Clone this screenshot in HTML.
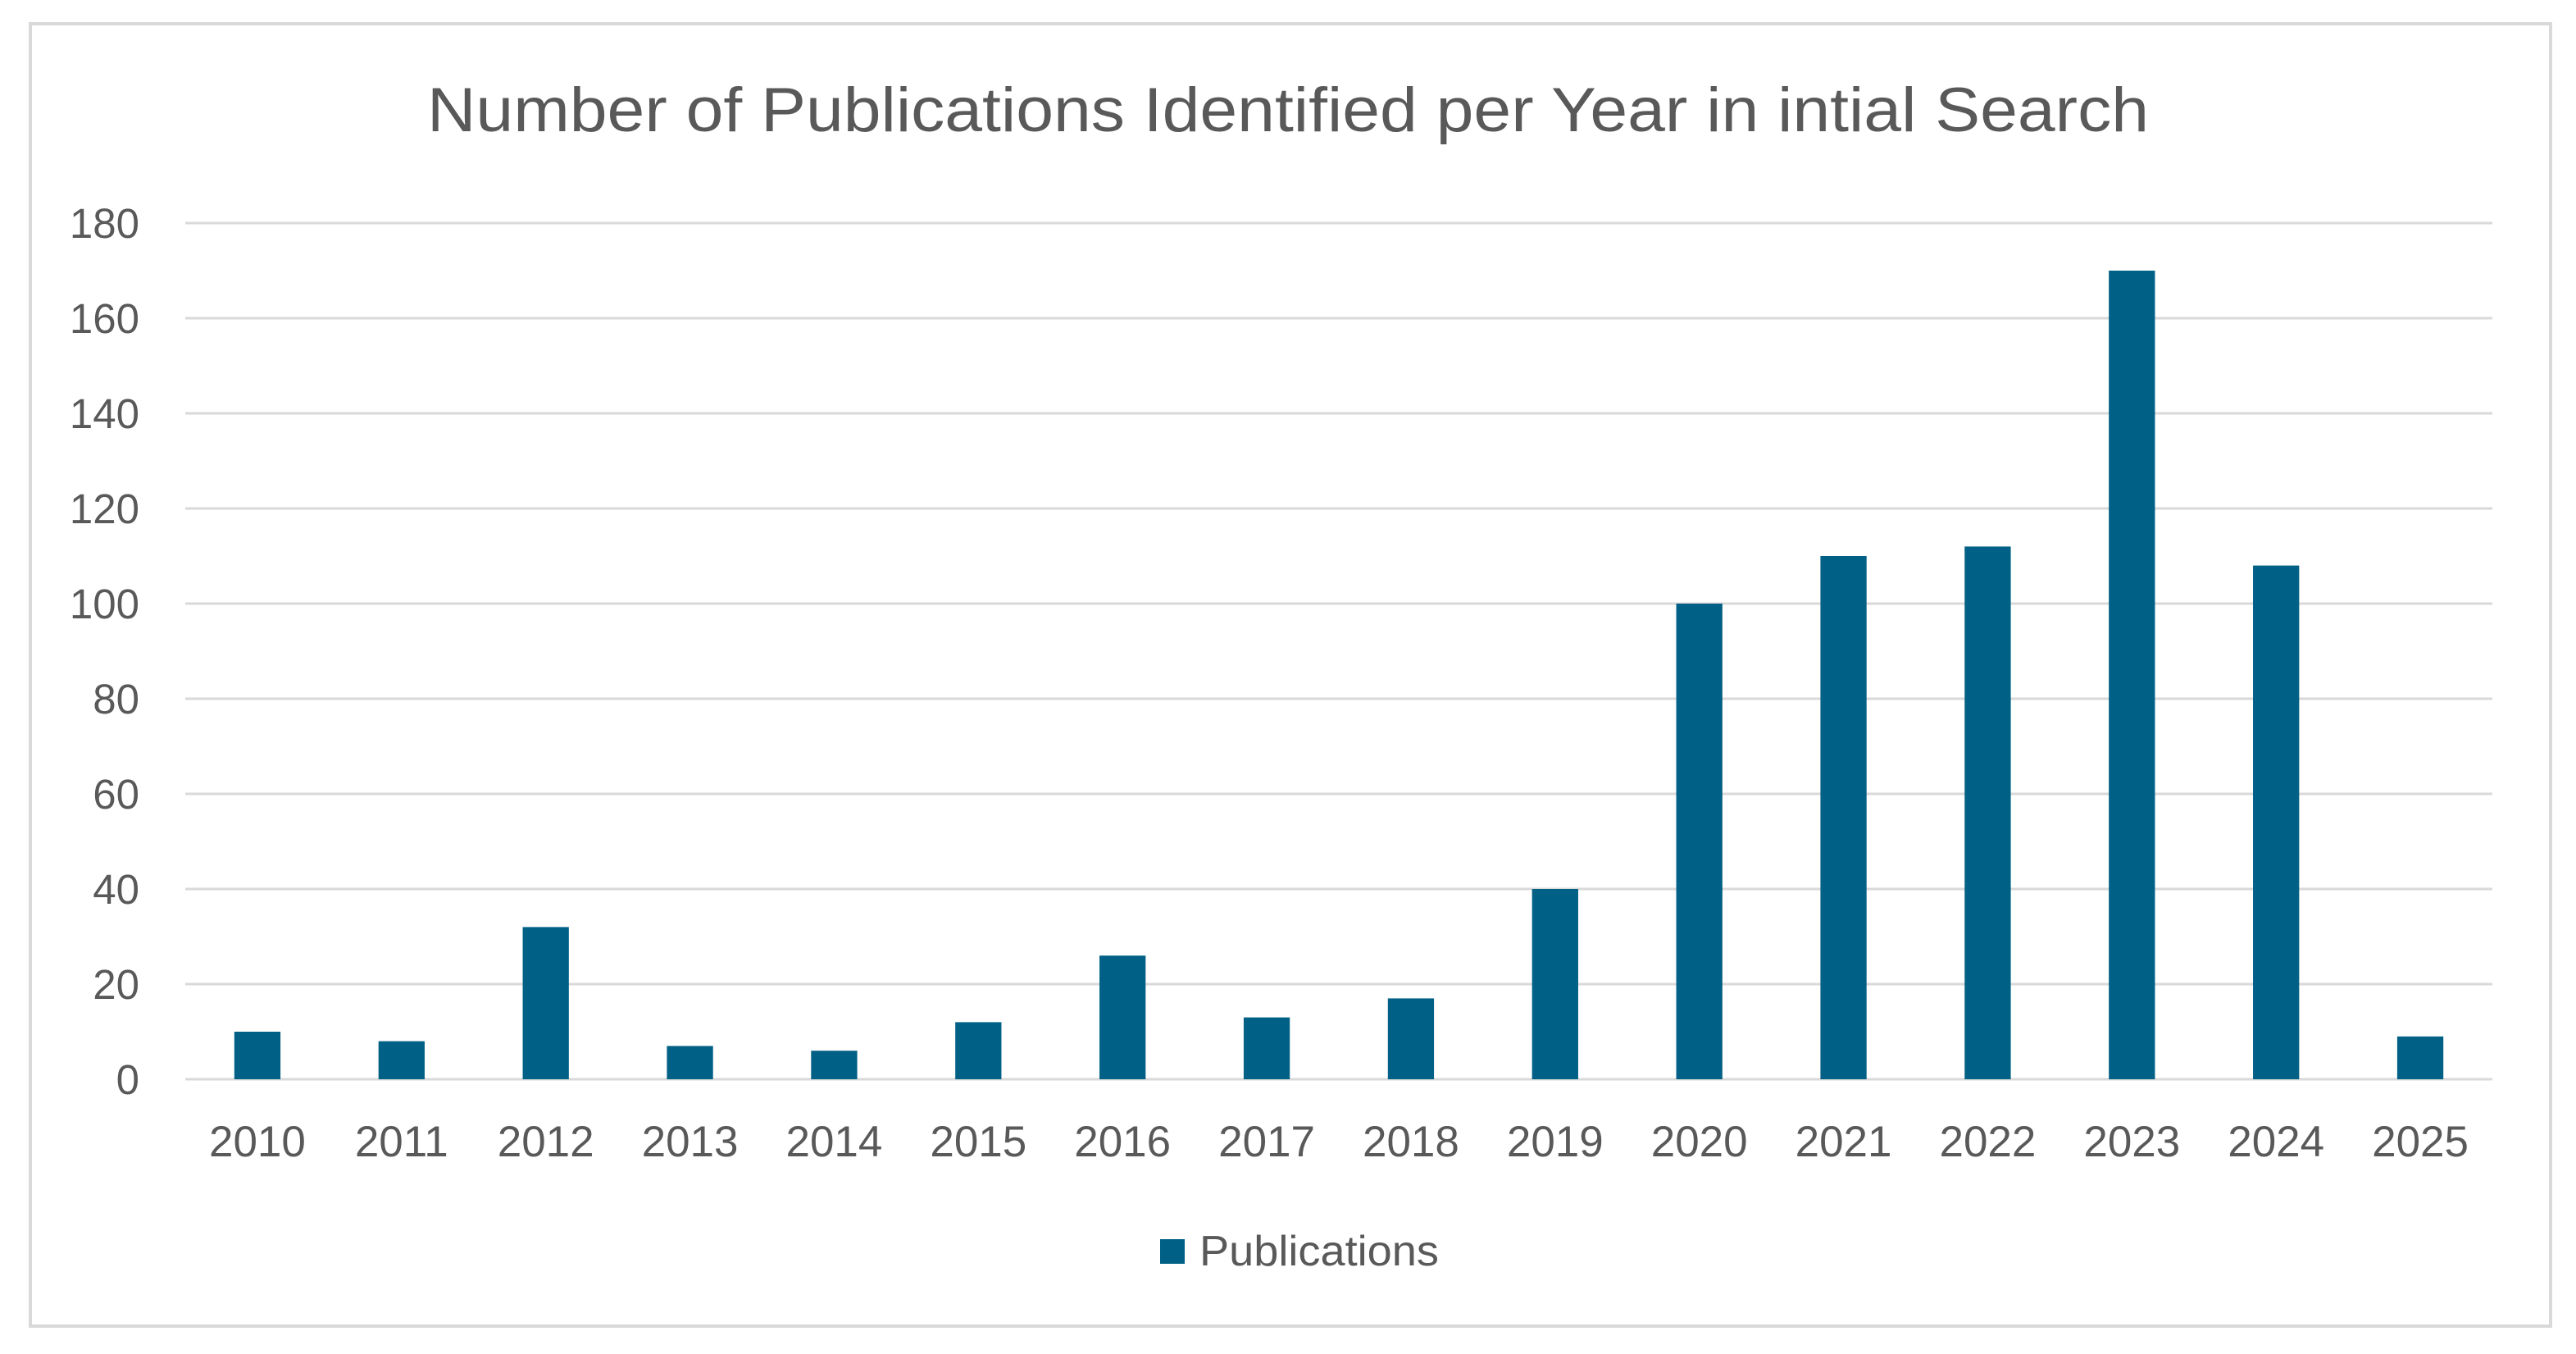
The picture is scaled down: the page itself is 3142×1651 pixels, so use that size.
<!DOCTYPE html>
<html><head><meta charset="utf-8"><style>
html,body{margin:0;padding:0;background:#fff}
svg{display:block;font-family:"Liberation Sans",sans-serif}
</style></head><body>
<svg id="chart" width="3142" height="1651" viewBox="0 0 3142 1651">
<rect x="37" y="29" width="3074" height="1588" fill="#fff" stroke="#d9d9d9" stroke-width="4"/>
<text x="1571" y="160" text-anchor="middle" font-size="76" fill="#595959" textLength="2100" lengthAdjust="spacingAndGlyphs">Number of Publications Identified per Year in intial Search</text>
<g id="grid"></g><g id="bars"></g><g id="xlabels"></g><g id="ylabels"></g>
<rect x="1415" y="1511" width="30" height="30" fill="#006085"/>
<text x="1463" y="1543" font-size="52" fill="#595959" textLength="292" lengthAdjust="spacingAndGlyphs">Publications</text>
</svg>
<script>
const categories=["2010","2011","2012","2013","2014","2015","2016","2017","2018","2019","2020","2021","2022","2023","2024","2025"];
const publications=[10,8,32,7,6,12,26,13,17,40,100,110,112,170,108,9];
const yTicks=[0,20,40,60,80,100,120,140,160,180];
const NS="http://www.w3.org/2000/svg";
const L=226,R=3040,T=272,B=1316,YMAX=180;
const band=(R-L)/categories.length;
function y(v){return B-(v/YMAX)*(B-T);}
function xc(i){return L+band*(i+0.5);}
function mk(t,a,p){const e=document.createElementNS(NS,t);for(const k in a)e.setAttribute(k,a[k]);p.appendChild(e);return e;}
const g=document.getElementById('grid'),bg=document.getElementById('bars'),xl=document.getElementById('xlabels'),yl=document.getElementById('ylabels');
yTicks.forEach(v=>{
  const ln=mk('line',{x1:L,x2:R,y1:y(v),y2:y(v),stroke:'#d9d9d9','stroke-width':3},g);
  
  
  const t=mk('text',{x:170,y:y(v)+18,'text-anchor':'end','font-size':51,fill:'#595959'},yl);
  t.textContent=v;
  
  
});
const bw=band*0.32;
publications.forEach((v,i)=>{
  const r=mk('rect',{x:xc(i)-bw/2,y:y(v),width:bw,height:B-y(v),fill:'#006085'},bg);
  
  
  const t=mk('text',{x:xc(i),y:1410,'text-anchor':'middle','font-size':53,fill:'#595959'},xl);
  t.textContent=categories[i];
  
  
});
</script>
</body></html>
